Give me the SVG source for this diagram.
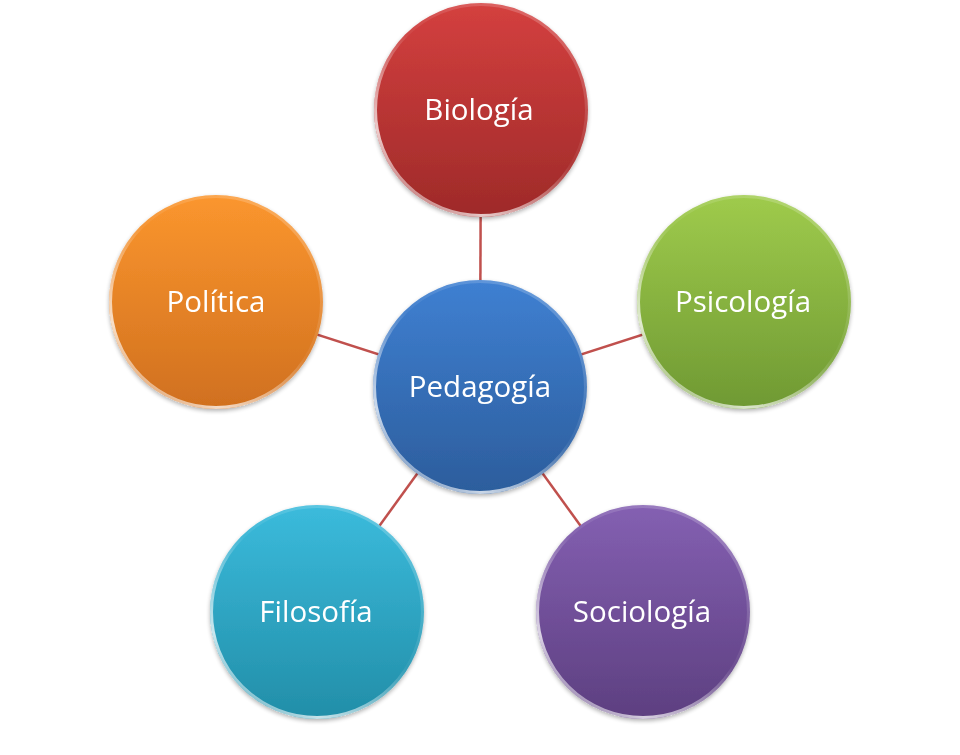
<svg xmlns="http://www.w3.org/2000/svg" width="960" height="755" viewBox="0 0 960 755">
<defs>
<linearGradient id="gRed" x1="0" y1="0" x2="0" y2="1"><stop offset="0" stop-color="#d4403f"/><stop offset="1" stop-color="#9e2a29"/></linearGradient>
<linearGradient id="gBlue" x1="0" y1="0" x2="0" y2="1"><stop offset="0" stop-color="#3f80d2"/><stop offset="1" stop-color="#2c5d9c"/></linearGradient>
<linearGradient id="gOrange" x1="0" y1="0" x2="0" y2="1"><stop offset="0" stop-color="#fb962e"/><stop offset="1" stop-color="#d0701f"/></linearGradient>
<linearGradient id="gGreen" x1="0" y1="0" x2="0" y2="1"><stop offset="0" stop-color="#9fcb4c"/><stop offset="1" stop-color="#6f9933"/></linearGradient>
<linearGradient id="gTeal" x1="0" y1="0" x2="0" y2="1"><stop offset="0" stop-color="#3bbbdc"/><stop offset="1" stop-color="#228ea8"/></linearGradient>
<linearGradient id="gPurple" x1="0" y1="0" x2="0" y2="1"><stop offset="0" stop-color="#8460b2"/><stop offset="1" stop-color="#5d3f80"/></linearGradient>
<linearGradient id="rim" x1="0.9" y1="0" x2="0.1" y2="1"><stop offset="0" stop-color="#fff" stop-opacity="0.25"/><stop offset="0.45" stop-color="#fff" stop-opacity="0.05"/><stop offset="0.8" stop-color="#fff" stop-opacity="0.75"/><stop offset="1" stop-color="#fff" stop-opacity="0.15"/></linearGradient>
<filter id="sh" x="-20%" y="-20%" width="140%" height="140%"><feGaussianBlur in="SourceAlpha" stdDeviation="2"/><feOffset dx="0" dy="2"/><feComponentTransfer><feFuncA type="linear" slope="0.3"/></feComponentTransfer><feMerge><feMergeNode/><feMergeNode in="SourceGraphic"/></feMerge></filter>
</defs>
<style>
.edge{stroke:#c0504d;stroke-width:2.5;fill:none}
.rim{fill:none;stroke:url(#rim);stroke-width:3}
.lbl{font-family:"Open Sans","Liberation Sans",sans-serif;font-size:29.5px;fill:#fff;text-anchor:middle;dominant-baseline:central}
</style>
<rect width="960" height="755" fill="#fff"/>
<g id="connectors">
<line class="edge" x1="480" y1="387" x2="481" y2="110"/>
<line class="edge" x1="480" y1="387" x2="744" y2="302"/>
<line class="edge" x1="480" y1="387" x2="643" y2="612"/>
<line class="edge" x1="480" y1="387" x2="317" y2="612"/>
<line class="edge" x1="480" y1="387" x2="216" y2="302"/>
</g>
<g id="biologia" filter="url(#sh)"><circle cx="481" cy="110" r="107" fill="url(#gRed)"/><circle class="rim" cx="481" cy="110" r="105.5"/><text class="lbl" x="479" y="108">Biología</text></g>
<g id="psicologia" filter="url(#sh)"><circle cx="744" cy="302" r="107" fill="url(#gGreen)"/><circle class="rim" cx="744" cy="302" r="105.5"/><text class="lbl" x="743" y="300">Psicología</text></g>
<g id="sociologia" filter="url(#sh)"><circle cx="643" cy="612" r="107" fill="url(#gPurple)"/><circle class="rim" cx="643" cy="612" r="105.5"/><text class="lbl" x="642" y="610">Sociología</text></g>
<g id="filosofia" filter="url(#sh)"><circle cx="317" cy="612" r="107" fill="url(#gTeal)"/><circle class="rim" cx="317" cy="612" r="105.5"/><text class="lbl" x="316" y="610">Filosofía</text></g>
<g id="politica" filter="url(#sh)"><circle cx="216" cy="302" r="107" fill="url(#gOrange)"/><circle class="rim" cx="216" cy="302" r="105.5"/><text class="lbl" x="216" y="300">Política</text></g>
<g id="pedagogia" filter="url(#sh)"><circle cx="480" cy="387" r="107" fill="url(#gBlue)"/><circle class="rim" cx="480" cy="387" r="105.5"/><text class="lbl" x="480" y="385">Pedagogía</text></g>
</svg>
